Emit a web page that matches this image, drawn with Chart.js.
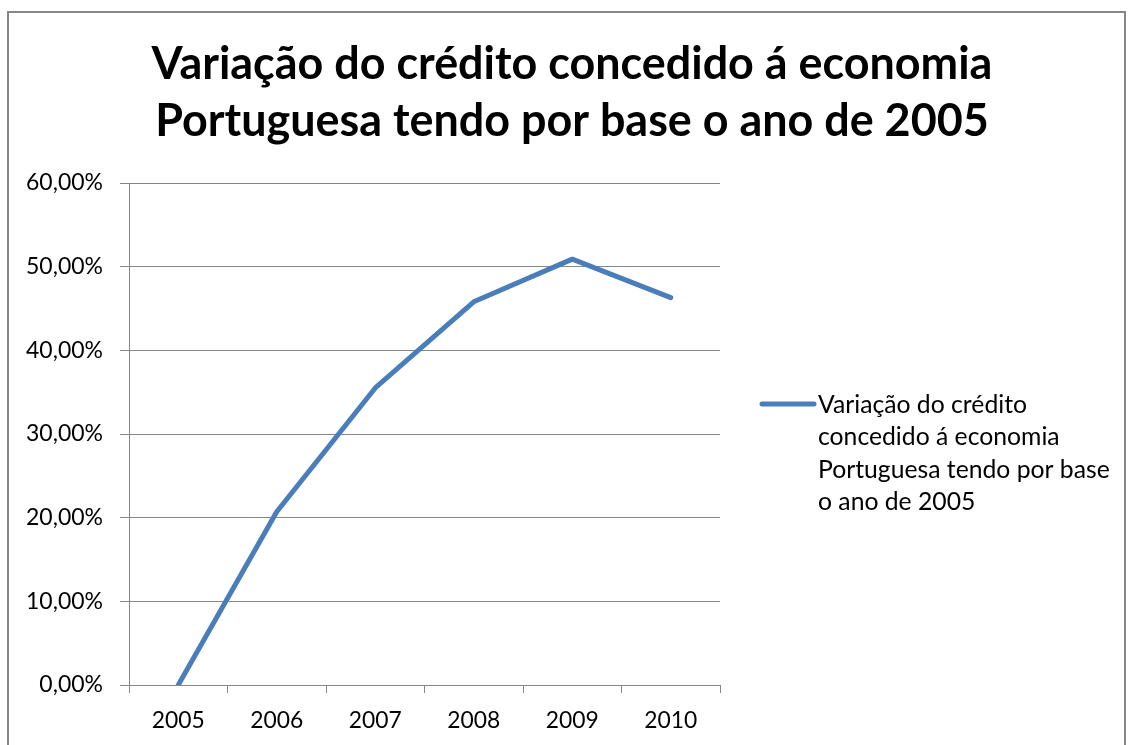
<!DOCTYPE html>
<html>
<head>
<meta charset="utf-8">
<script src="https://cdn.jsdelivr.net/npm/chart.js@4.4.1/dist/chart.umd.min.js"></script>
<style>
  html, body { margin: 0; padding: 0; background: #fff; }
  #wrap { position: relative; width: 1128px; height: 745px; }
</style>
</head>
<body>
<div id="wrap"><canvas id="c" width="1128" height="745"></canvas></div>
<script>
// ---- data ----
const categories = ['2005', '2006', '2007', '2008', '2009', '2010'];
const values = [0, 20.7, 35.5, 45.8, 50.9, 46.3];
const yTickValues = [0, 10, 20, 30, 40, 50, 60];
const titleLines = ['Variação do crédito concedido á economia', 'Portuguesa tendo por base o ano de 2005'];
const seriesName = 'Variação do crédito concedido á economia Portuguesa tendo por base o ano de 2005';
const legendLines = ['Variação do crédito', 'concedido á economia', 'Portuguesa tendo por base', 'o ano de 2005'];

// ---- style ----
const FAMILY = 'Lato, "Open Sans", sans-serif';
const GRID = '#868686';
const LINE = '#4a7ebb';

const mctx = document.createElement('canvas').getContext('2d');
function fitSize(text, weight, target) {
  mctx.font = weight + ' 100px ' + FAMILY;
  return 100 * target / mctx.measureText(text).width;
}
const titleSize = fitSize(titleLines[0], 'bold', 841);
const tickSize = fitSize('60,00%', 'normal', 77);
const xTickSize = fitSize('2005', 'normal', 53);
const legendSize = fitSize(legendLines[2], 'normal', 292);

function fmt(v) { return v.toFixed(2).replace('.', ',') + '%'; }

const decor = {
  id: 'decor',
  beforeDraw(chart) {
    const ctx = chart.ctx;
    ctx.save();
    ctx.fillStyle = '#fff';
    ctx.fillRect(0, 0, chart.width, chart.height);
    ctx.strokeStyle = GRID;
    ctx.lineWidth = 2;
    ctx.strokeRect(8, 12, 1117, 760);
    ctx.restore();
  },
  afterDraw(chart) {
    const ctx = chart.ctx;
    ctx.save();
    // title
    ctx.fillStyle = '#000';
    ctx.textAlign = 'center';
    ctx.textBaseline = 'alphabetic';
    ctx.font = 'bold ' + titleSize + 'px ' + FAMILY;
    ctx.fillText(titleLines[0], 572, 79);
    ctx.fillText(titleLines[1], 572, 136);
    // legend
    const ds = chart.data.datasets[0];
    ctx.strokeStyle = ds.borderColor;
    ctx.lineWidth = 5;
    ctx.lineCap = 'round';
    ctx.beginPath();
    ctx.moveTo(762, 404);
    ctx.lineTo(814, 404);
    ctx.stroke();
    ctx.textAlign = 'left';
    ctx.textBaseline = 'middle';
    ctx.font = legendSize + 'px ' + FAMILY;
    legendLines.forEach((l, i) => ctx.fillText(l, 818, 405 + i * 32.5));
    ctx.restore();
  }
};

new Chart(document.getElementById('c'), {
  type: 'line',
  data: {
    labels: categories,
    datasets: [{
      label: seriesName,
      data: values,
      borderColor: LINE,
      borderWidth: 5,
      pointRadius: 0,
      tension: 0,
      borderCapStyle: 'round',
      borderJoinStyle: 'round'
    }]
  },
  options: {
    responsive: false,
    animation: false,
    layout: { padding: { top: 183, left: 0, right: 408, bottom: 0 } },
    plugins: { legend: { display: false }, title: { display: false }, tooltip: { enabled: false } },
    scales: {
      x: {
        type: 'category',
        offset: true,
        grid: { offset: true, drawOnChartArea: false, drawTicks: true, tickLength: 8, color: GRID, lineWidth: 1 },
        border: { display: true, color: GRID, width: 1 },
        ticks: { color: '#000', font: { family: FAMILY, size: xTickSize }, padding: 14, maxRotation: 0 },
        afterFit(s) { s.height = 60; }
      },
      y: {
        min: 0, max: 60,
        afterBuildTicks(s) { s.ticks = yTickValues.map(v => ({ value: v })); },
        grid: { color: GRID, lineWidth: 1, tickLength: 9, drawTicks: true },
        border: { display: true, color: GRID, width: 1 },
        ticks: { color: '#000', font: { family: FAMILY, size: tickSize }, padding: 17, callback: v => fmt(v) },
        afterFit(s) { s.width = 129; }
      }
    }
  },
  plugins: [decor]
});
</script>
</body>
</html>
